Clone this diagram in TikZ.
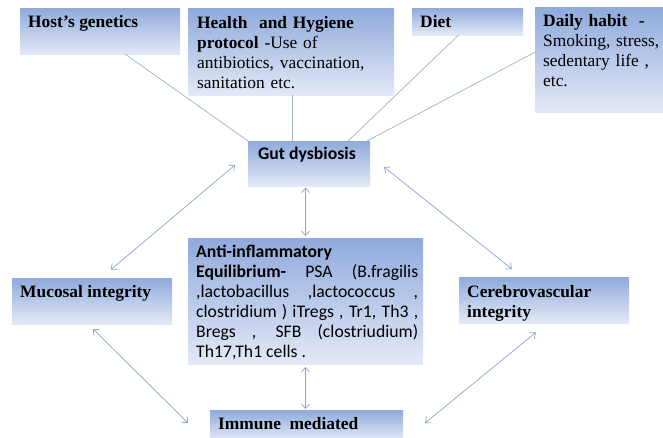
\documentclass[tikz,border=0pt]{standalone}
\usepackage{fontspec}
\setmainfont{Liberation Serif}
\newfontfamily\calfont{Carlito}
\usetikzlibrary{arrows.meta,calc}
\definecolor{boxtop}{HTML}{8FAADC}
\definecolor{boxbot}{HTML}{E3E9F6}
\definecolor{linec}{HTML}{9DB2CC}
\definecolor{arrc}{HTML}{8AA3C6}
\begin{document}
\begin{tikzpicture}[x=1pt,y=-1pt,
  gbox/.style={inner sep=0pt, outer sep=0pt, draw=none, top color=boxtop, bottom color=boxbot},
  txt/.style={anchor=base west, inner sep=0pt, align=left, font=\fontsize{17.4}{20}\selectfont},
  ctxt/.style={anchor=base west, inner sep=0pt, font=\calfont\fontsize{17.7}{20}\selectfont},
  ln/.style={draw=linec, line width=0.7pt},
  arr/.style={draw=arrc, line width=0.7pt, {Straight Barb[length=4.5pt,width=8pt]}-{Straight Barb[length=4.5pt,width=8pt]}}]
\useasboundingbox (0,0) rectangle (663,437);
% boxes
\node[gbox, minimum width=160pt, minimum height=46pt] (host) at (100,31) {};
\node[gbox, minimum width=206pt, minimum height=87pt] (health) at (291,51.5) {};
\node[gbox, minimum width=111pt, minimum height=27pt] (diet) at (467.5,21.5) {};
\node[gbox, minimum width=135pt, minimum height=105pt] (daily) at (602.5,59.5) {};
\node[gbox, minimum width=122pt, minimum height=45pt] (gut) at (309,163.5) {};
\node[gbox, minimum width=235pt, minimum height=126pt] (anti) at (305.5,301) {};
\node[gbox, minimum width=160pt, minimum height=46pt] (muc) at (92,301) {};
\node[gbox, minimum width=170pt, minimum height=46pt] (cer) at (544,300) {};
\node[gbox, minimum width=193pt, minimum height=30pt] (imm) at (306.5,425) {};
% texts
\node[txt] (hostT) at (28,27) {\textbf{Host’s genetics}};
\node[txt, text width=195pt] (healthT) at (197,28) {\textbf{Health\ \ and Hygiene}\\\textbf{protocol -}Use of\\antibiotics, vaccination,\\sanitation etc.};
\node[txt] (dietT) at (420,27) {\textbf{Diet}};
\node[txt, text width=122pt] (dailyT) at (543,26) {\textbf{Daily habit\ \ -}\\Smoking,\ stress,\\sedentary life ,\\etc.};
\node[ctxt] (gutT) at (258,159) {\textbf{Gut dysbiosis}};
\node[ctxt, text width=222pt, align=justify] (antiT) at (196,257) {\textbf{Anti-inflammatory}\newline
\textbf{Equilibrium-} PSA (B.fragilis\linebreak
,lactobacillus ,lactococcus ,\linebreak
clostridium ) iTregs , Tr1, Th3 ,\linebreak
Bregs , SFB (clostriudium)\linebreak
Th17,Th1 cells .};
\node[txt] (mucT) at (20,297) {\textbf{Mucosal integrity}};
\node[txt, text width=160pt] (cerT) at (467,297) {\textbf{Cerebrovascular}\\\textbf{integrity}};
\node[txt] (immT) at (218,429) {\textbf{Immune\ \ mediated}};
% top lines
\coordinate (g1) at ($(gut.north west)!0.361!(gut.north east)$);
\draw[ln] ($(host.south west)!0.656!(host.south east)$) -- (gut.north west);
\draw[ln] (health.south -| g1) -- (g1);
\draw[ln] ($(diet.south west)!0.42!(diet.south east)$) -- ($(gut.north west)!0.82!(gut.north east)$);
\draw[ln] ($(daily.north west)!0.43!(daily.south west)$) -- ($(gut.north west)!0.975!(gut.north east)$);
% arrows
\coordinate (mi) at ($(imm.west)+(-22,-2)$);
\coordinate (ci) at ($(imm.east)+(22,-2)$);
\draw[arr, shorten <=17pt, shorten >=13pt] ($(gut.north west)!0.29!(gut.south west)$) -- ($(muc.north west)!0.556!(muc.north east)$);
\draw[arr, shorten <=18pt, shorten >=12.8pt] ($(gut.north east)!0.33!(gut.south east)$) -- ($(cer.north west)!0.37!(cer.north east)$);
\draw[arr, shorten <=1.5pt, shorten >=2pt] (anti.north |- gut.south) -- (anti.north);
\draw[arr, shorten <=3pt, shorten >=1pt] (anti.south) -- (anti.south |- imm.north);
\draw[arr, shorten <=7pt] ($(muc.south west)!0.475!(muc.south east)$) -- (mi);
\draw[arr, shorten <=15pt] ($(cer.south west)!0.52!(cer.south east)$) -- (ci);
\end{tikzpicture}
\end{document}
